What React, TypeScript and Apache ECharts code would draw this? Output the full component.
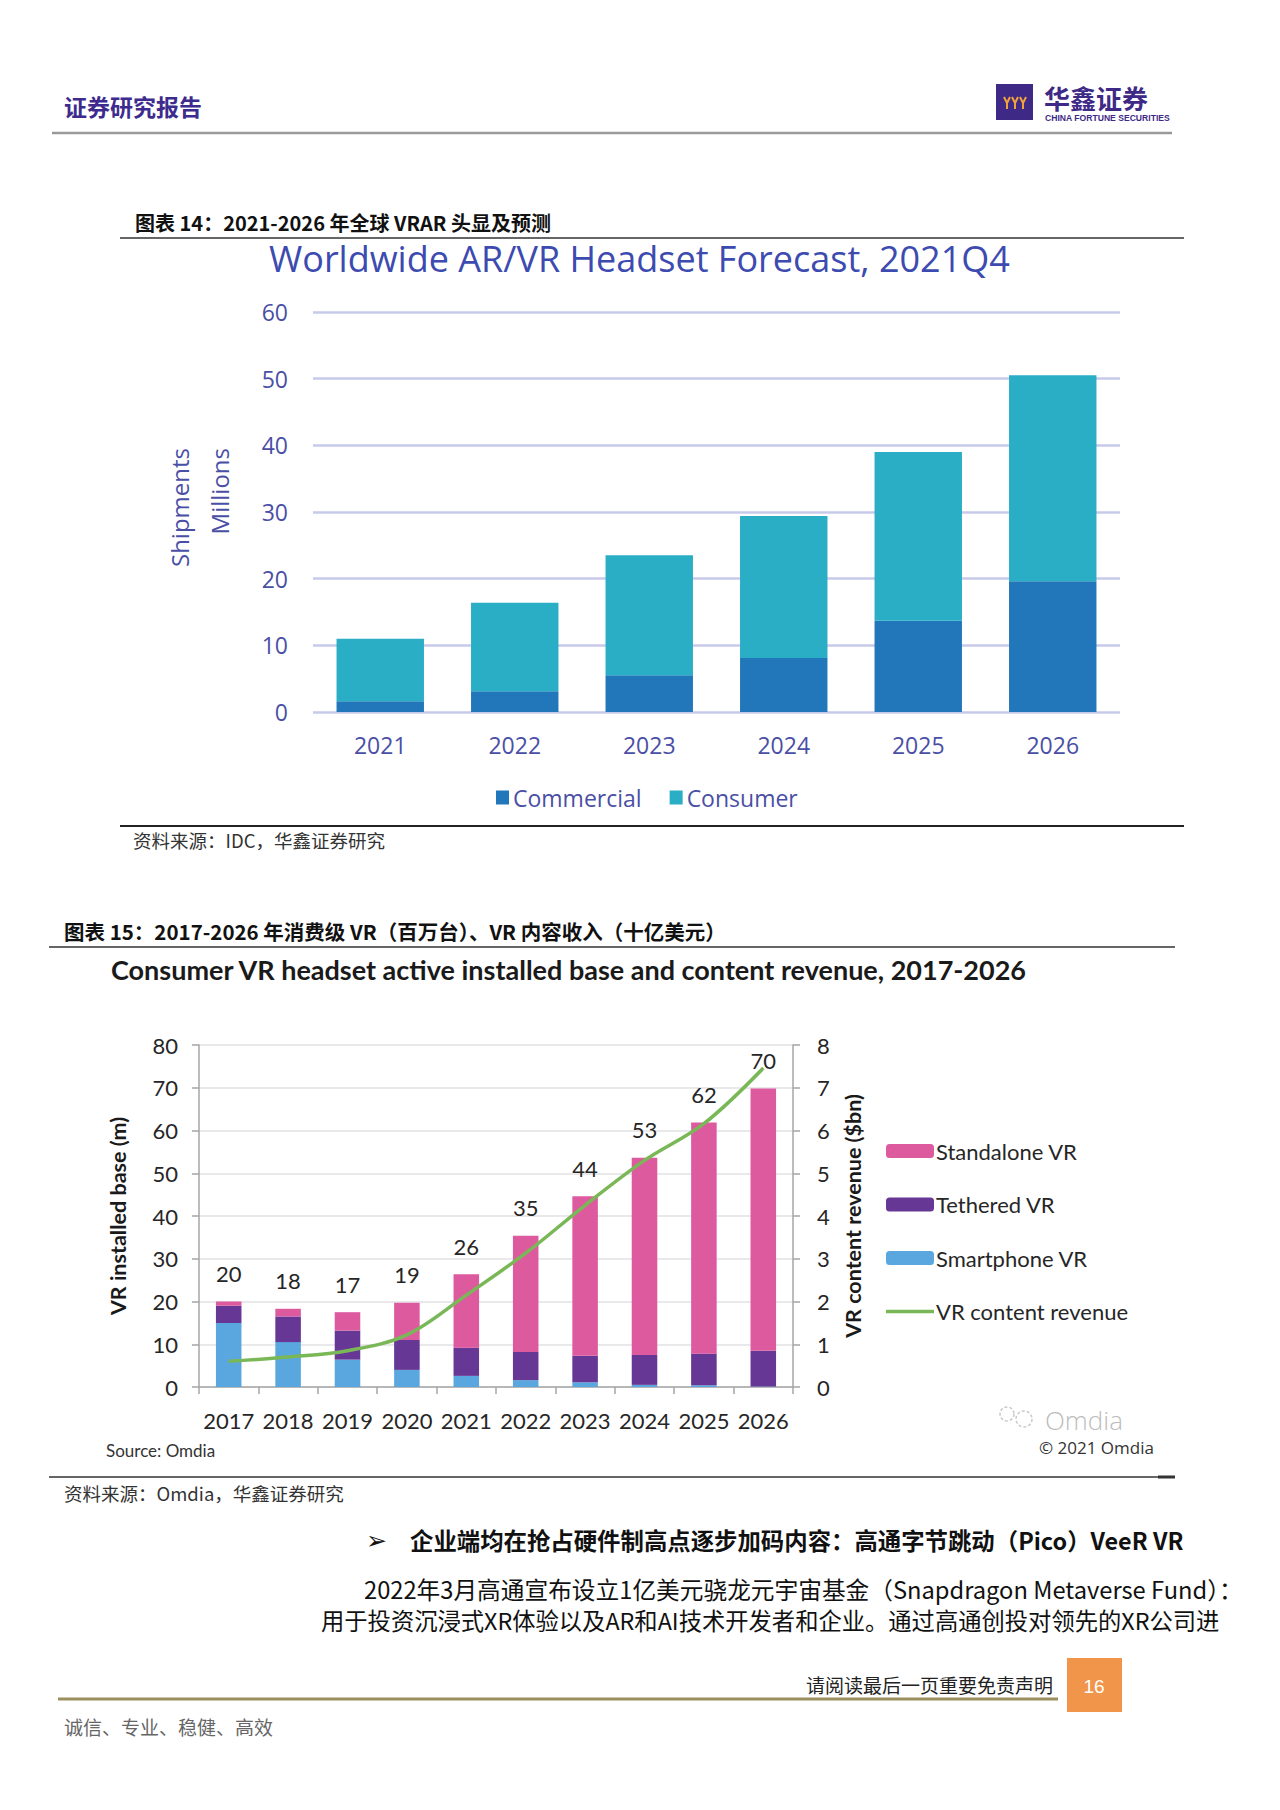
import React, { useEffect, useRef } from "react";
import * as echarts from "echarts";

// ---------- Chart 1 data: Worldwide AR/VR Headset Forecast (millions) ----------
const years1 = ["2021", "2022", "2023", "2024", "2025", "2026"];
const commercial = [1.6, 3.1, 5.5, 8.1, 13.7, 19.6];
const consumer = [9.4, 13.3, 18.0, 21.3, 25.3, 30.9];

// ---------- Chart 2 data: Consumer VR installed base (m) & content revenue ($bn) ----------
const years2 = ["2017", "2018", "2019", "2020", "2021", "2022", "2023", "2024", "2025", "2026"];
const smartphoneVR = [15.0, 10.5, 6.4, 4.0, 2.6, 1.6, 1.1, 0.5, 0.4, 0.1];
const tetheredVR = [4.0, 6.0, 6.8, 7.0, 6.6, 6.6, 6.2, 7.0, 7.4, 8.4];
const standaloneVR = [1.0, 1.8, 4.3, 8.7, 17.2, 27.2, 37.3, 46.1, 54.1, 61.3];
const totalLabels = ["20", "18", "17", "19", "26", "35", "44", "53", "62", "70"];
const contentRevenue = [0.6, 0.7, 0.85, 1.22, 2.15, 3.13, 4.25, 5.3, 6.16, 7.46];

const C1_TEXT = "#4A4FA6";
const C2_TEXT = "#262626";
const CJK = "'Noto Sans CJK SC', sans-serif";

function txt(text: string, x: number, y: number, s: any = {}, extra: any = {}) {
  return {
    type: "text",
    x,
    y,
    silent: true,
    ...extra,
    style: {
      text,
      fontSize: 18,
      fontFamily: CJK,
      fill: "#222",
      textAlign: "left",
      textVerticalAlign: "middle",
      ...s,
    },
  };
}

function hline(x1: number, x2: number, y: number, color: string, w: number) {
  return {
    type: "line",
    silent: true,
    shape: { x1, y1: y, x2, y2: y },
    style: { stroke: color, lineWidth: w },
  };
}

export default function App() {
  const ref = useRef<HTMLDivElement>(null);

  useEffect(() => {
    if (!ref.current) return;
    const chart = echarts.init(ref.current, undefined, { renderer: "svg" });

    const graphic: any[] = [
      // header
      txt("证券研究报告", 64, 106, { fontSize: 23, fontWeight: "bold", fill: "#3D2B8E" }),
      { type: "rect", silent: true, shape: { x: 996, y: 84, width: 37, height: 36 }, style: { fill: "#3E2A86" } },
      { type: "polyline", silent: true, shape: { points: [[1004, 97], [1007, 103], [1010, 97]] }, style: { stroke: "#F2A23A", lineWidth: 2, fill: null } },
      { type: "polyline", silent: true, shape: { points: [[1012, 97], [1015, 103], [1018, 97]] }, style: { stroke: "#F2A23A", lineWidth: 2, fill: null } },
      { type: "polyline", silent: true, shape: { points: [[1020, 97], [1023, 103], [1026, 97]] }, style: { stroke: "#F2A23A", lineWidth: 2, fill: null } },
      { type: "line", silent: true, shape: { x1: 1007, y1: 103, x2: 1007, y2: 109 }, style: { stroke: "#F2A23A", lineWidth: 2 } },
      { type: "line", silent: true, shape: { x1: 1015, y1: 103, x2: 1015, y2: 109 }, style: { stroke: "#F2A23A", lineWidth: 2 } },
      { type: "line", silent: true, shape: { x1: 1023, y1: 103, x2: 1023, y2: 109 }, style: { stroke: "#F2A23A", lineWidth: 2 } },
      txt("华鑫证券", 1044, 97, { fontSize: 26, fill: "#3E2A86", fontWeight: "bold" }),
      txt("CHINA FORTUNE SECURITIES", 1045, 118, {
        fontSize: 8.6,
        fill: "#3E2A86",
        fontWeight: "bold",
        fontFamily: "'Liberation Sans Narrow', 'Liberation Sans', sans-serif",
      }),
      hline(52, 1172, 133, "#9A9A9A", 2.5),

      // chart 1 caption & frame
      txt("图表 14：2021-2026 年全球 VRAR 头显及预测", 135, 222, { fontSize: 20, lineHeight: 20, fontWeight: "bold", fill: "#111" }),
      hline(120, 1184, 238, "#333", 1.5),
      txt("Worldwide AR/VR Headset Forecast, 2021Q4", 269, 258, {
        fontSize: 36,
        lineHeight: 34,
        fill: "#3D4BB0",
        fontFamily: "'Open Sans', sans-serif",
      }),
      txt("Shipments", 179, 448, { fontSize: 24, fill: C1_TEXT, fontFamily: "'Open Sans', sans-serif", textAlign: "right" }, { rotation: Math.PI / 2 }),
      txt("Millions", 219, 448, { fontSize: 24, fill: C1_TEXT, fontFamily: "'Open Sans', sans-serif", textAlign: "right" }, { rotation: Math.PI / 2 }),
      hline(120, 1184, 826, "#222", 2),
      txt("资料来源：IDC，华鑫证券研究", 133, 840, { fontSize: 18.5, fill: "#333" }),

      // chart 2 caption & frame
      txt("图表 15：2017-2026 年消费级 VR（百万台）、VR 内容收入（十亿美元）", 64, 931, { fontSize: 20.5, fontWeight: "bold", fill: "#111" }),
      hline(49, 1175, 947, "#333", 1.5),
      txt("Consumer VR headset active installed base and content revenue, 2017-2026", 111, 969, {
        fontSize: 27,
        fontWeight: "bold",
        fill: "#1A1A1A",
        fontFamily: "Lato, sans-serif",
      }),
      txt("Source: Omdia", 106, 1450, { fontSize: 17, fill: "#333", fontFamily: "Lato, sans-serif" }),
      { type: "circle", silent: true, shape: { cx: 1007, cy: 1414, r: 7 }, style: { fill: null, stroke: "#C8C8C8", lineWidth: 1.5, lineDash: [3, 2] } },
      { type: "circle", silent: true, shape: { cx: 1024, cy: 1419, r: 8 }, style: { fill: null, stroke: "#C8C8C8", lineWidth: 1.5, lineDash: [3, 2] } },
      txt("Omdia", 1045, 1420, { fontSize: 26, lineHeight: 24, fill: "#BDBDBD", fontFamily: "'Open Sans', sans-serif", fontWeight: 300 }),
      txt("© 2021 Omdia", 1039, 1447, { fontSize: 17, lineHeight: 17, fill: "#333", fontFamily: "'Open Sans', sans-serif" }),
      hline(49, 1158, 1477, "#333", 1.5),
      hline(1158, 1175, 1477, "#333", 3),
      txt("资料来源：Omdia，华鑫证券研究", 64, 1493, { fontSize: 18.5, fill: "#333" }),

      // body text
      txt("➢", 366, 1540, { fontSize: 25, fill: "#111", fontFamily: "'DejaVu Sans', sans-serif" }),
      txt("企业端均在抢占硬件制高点逐步加码内容：高通字节跳动（Pico）VeeR VR", 410, 1540, {
        fontSize: 23.4,
        fontWeight: "bold",
        fill: "#111",
      }),
      txt("2022年3月高通宣布设立1亿美元骁龙元宇宙基金（Snapdragon Metaverse Fund）：", 364, 1589, {
        fontSize: 23.7,
        lineHeight: 24,
        fill: "#111",
      }),
      txt("用于投资沉浸式XR体验以及AR和AI技术开发者和企业。通过高通创投对领先的XR公司进", 321, 1620, {
        fontSize: 23.3,
        lineHeight: 24,
        fill: "#111",
      }),

      // footer
      txt("请阅读最后一页重要免责声明", 1053, 1684, { fontSize: 19, fill: "#222", textAlign: "right" }),
      hline(58, 1058, 1699, "#9C8F5F", 3),
      { type: "rect", silent: true, shape: { x: 1067, y: 1658, width: 55, height: 54 }, style: { fill: "#F0954A" } },
      txt("16", 1094, 1686, { fontSize: 19, fill: "#FFFFFF", textAlign: "center", fontFamily: "'Liberation Sans', sans-serif" }),
      txt("诚信、专业、稳健、高效", 64, 1726, { fontSize: 19, fill: "#666" }),
    ];

    const option: any = {
      animation: false,
      backgroundColor: "#FFFFFF",
      textStyle: { fontFamily: "Lato, sans-serif" },
      graphic,
      grid: [
        { left: 313, top: 312, width: 807, height: 400, containLabel: false },
        { left: 199, top: 1045, width: 594, height: 342, containLabel: false },
      ],
      legend: [
        {
          data: ["Commercial", "Consumer"],
          left: 491,
          top: 781,
          icon: "rect",
          itemWidth: 13,
          itemHeight: 14,
          itemGap: 28,
          textStyle: { color: C1_TEXT, fontSize: 23, fontFamily: "'Open Sans', sans-serif", padding: [0, 0, 0, -1] },
        },
        {
          data: [
            "Standalone VR",
            "Tethered VR",
            "Smartphone VR",
            { name: "VR content revenue", icon: "path://M0,0 L48,0 L48,3.5 L0,3.5 Z" },
          ],
          orient: "vertical",
          left: 881,
          top: 1135,
          itemWidth: 48,
          itemHeight: 14,
          itemGap: 31.5,
          textStyle: { color: C2_TEXT, fontSize: 22, fontFamily: "Lato, sans-serif", padding: [0, 0, 0, -3] },
        },
      ],
      xAxis: [
        {
          gridIndex: 0,
          type: "category",
          data: years1,
          axisLine: { show: false },
          axisTick: { show: false },
          axisLabel: { color: C1_TEXT, fontSize: 23, fontFamily: "'Open Sans', sans-serif", margin: 21 },
        },
        {
          gridIndex: 1,
          type: "category",
          data: years2,
          axisLine: { lineStyle: { color: "#A6A6A6", width: 1.5 } },
          axisTick: { show: true, length: 7, lineStyle: { color: "#A6A6A6", width: 1.5 } },
          axisLabel: { color: C2_TEXT, fontSize: 22, margin: 22, interval: 0, fontFamily: "Lato, sans-serif" },
        },
      ],
      yAxis: [
        {
          gridIndex: 0,
          type: "value",
          min: 0,
          max: 60,
          interval: 10,
          axisLine: { show: false },
          axisTick: { show: false },
          axisLabel: { color: C1_TEXT, fontSize: 23, margin: 25, fontFamily: "'Open Sans', sans-serif" },
          splitLine: { lineStyle: { color: "#C7CAE9", width: 2.5 } },
        },
        {
          gridIndex: 1,
          type: "value",
          min: 0,
          max: 80,
          interval: 10,
          axisLine: { show: true, lineStyle: { color: "#A6A6A6", width: 1.5 } },
          axisTick: { show: true, length: 7, lineStyle: { color: "#A6A6A6", width: 1.5 } },
          axisLabel: { color: C2_TEXT, fontSize: 22, margin: 21, fontFamily: "Lato, sans-serif" },
          splitLine: { lineStyle: { color: "#E2E2E6", width: 1.5 } },
          name: "VR installed base (m)",
          nameLocation: "middle",
          nameRotate: 90,
          nameGap: 70,
          nameTextStyle: { color: "#1A1A1A", fontSize: 21.5, fontWeight: "bold", fontFamily: "Lato, sans-serif" },
        },
        {
          gridIndex: 1,
          type: "value",
          position: "right",
          min: 0,
          max: 8,
          interval: 1,
          axisLine: { show: true, lineStyle: { color: "#A6A6A6", width: 1.5 } },
          axisTick: { show: true, length: 7, lineStyle: { color: "#A6A6A6", width: 1.5 } },
          axisLabel: { color: C2_TEXT, fontSize: 22, margin: 24, fontFamily: "Lato, sans-serif" },
          splitLine: { show: false },
          name: "VR content revenue ($bn)",
          nameLocation: "middle",
          nameRotate: 90,
          nameGap: 49,
          nameTextStyle: { color: "#1A1A1A", fontSize: 21.5, fontWeight: "bold", fontFamily: "Lato, sans-serif" },
        },
      ],
      series: [
        {
          name: "Commercial",
          type: "bar",
          xAxisIndex: 0,
          yAxisIndex: 0,
          stack: "c1",
          barWidth: "65%",
          data: commercial,
          itemStyle: { color: "#2277BB" },
        },
        {
          name: "Consumer",
          type: "bar",
          xAxisIndex: 0,
          yAxisIndex: 0,
          stack: "c1",
          data: consumer,
          itemStyle: { color: "#29AEC6" },
        },
        {
          name: "Smartphone VR",
          type: "bar",
          xAxisIndex: 1,
          yAxisIndex: 1,
          stack: "c2",
          barWidth: "43%",
          data: smartphoneVR,
          itemStyle: { color: "#5AA7DF" },
        },
        {
          name: "Tethered VR",
          type: "bar",
          xAxisIndex: 1,
          yAxisIndex: 1,
          stack: "c2",
          data: tetheredVR,
          itemStyle: { color: "#673795" },
        },
        {
          name: "Standalone VR",
          type: "bar",
          xAxisIndex: 1,
          yAxisIndex: 1,
          stack: "c2",
          data: standaloneVR,
          itemStyle: { color: "#DD5A9F" },
          label: {
            show: true,
            position: "top",
            distance: 17,
            color: C2_TEXT,
            fontSize: 22,
            fontFamily: "Lato, sans-serif",
            formatter: (p: any) => totalLabels[p.dataIndex],
          },
        },
        {
          name: "VR content revenue",
          type: "line",
          xAxisIndex: 1,
          yAxisIndex: 2,
          smooth: 0.35,
          symbol: "none",
          z: 5,
          data: contentRevenue,
          lineStyle: { color: "#7AB757", width: 3.5 },
          itemStyle: { color: "#7AB757" },
        },
      ],
    };

    chart.setOption(option);
    return () => chart.dispose();
  }, []);

  return (
    <div
      ref={ref}
      style={{ position: "absolute", left: 0, top: 0, width: 1280, height: 1810, background: "#fff" }}
    />
  );
}
